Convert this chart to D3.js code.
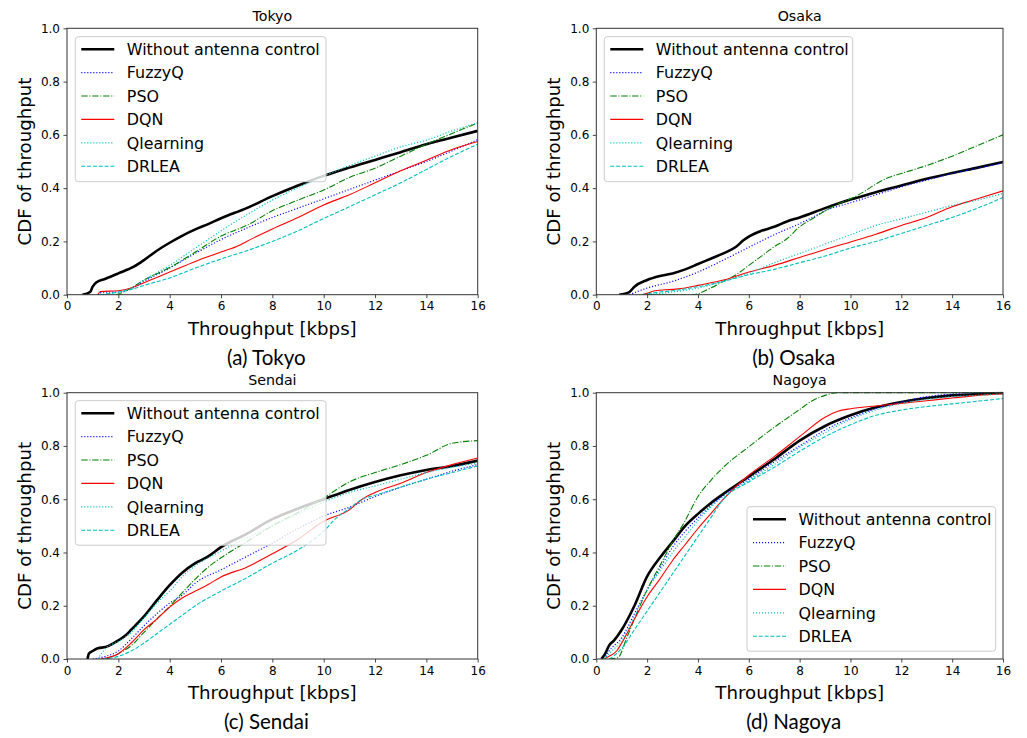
<!DOCTYPE html>
<html>
<head>
<meta charset="utf-8">
<script src="https://cdn.jsdelivr.net/npm/d3@7"></script>
<style>
  html, body { margin: 0; padding: 0; background: #fff; }
  svg text { font-family: "DejaVu Sans", sans-serif; fill: #000; }
</style>
</head>
<body>
<svg id="fig" width="1027" height="738"></svg>
<script>
// ---- Data: CDF of throughput per city, each series as [throughput kbps, CDF] ----
const seriesNames = ["Without antenna control", "FuzzyQ", "PSO", "DQN", "Qlearning", "DRLEA"];
const xTicks = [0, 2, 4, 6, 8, 10, 12, 14, 16];
const yTicks = [0, 0.2, 0.4, 0.6, 0.8, 1.0];
const cityTitles = ["Tokyo", "Osaka", "Sendai", "Nagoya"];
const captions = ["(a) Tokyo", "(b) Osaka", "(c) Sendai", "(d) Nagoya"];

// Tokyo
const tokyoWithout = [[0.6,0],[0.9,0.01],[1.0,0.03],[1.15,0.047],[1.5,0.06],[2,0.08],[2.6,0.105],[3,0.13],[3.5,0.165],[4,0.195],[4.5,0.222],[5,0.245],[5.5,0.265],[6,0.287],[7,0.325],[8,0.37],[9,0.41],[10,0.446],[11,0.477],[12,0.506],[13,0.535],[14,0.565],[15,0.59],[16,0.615]];
const tokyoFuzzyQ = [[1.2,0],[1.4,0.01],[2,0.01],[2.5,0.022],[3,0.05],[4,0.1],[5,0.155],[6,0.207],[7,0.25],[8,0.29],[9,0.325],[10,0.36],[11,0.395],[12,0.43],[13,0.465],[14,0.5],[15,0.54],[16,0.582]];
const tokyoPSO = [[1.9,0],[2.2,0.01],[2.5,0.025],[3,0.055],[4,0.102],[5,0.16],[6,0.22],[7,0.26],[8,0.315],[9,0.355],[10,0.393],[11,0.44],[12,0.475],[13,0.52],[14,0.565],[15,0.605],[16,0.645]];
const tokyoDQN = [[1.2,0],[1.3,0.012],[2,0.015],[2.5,0.025],[3,0.045],[3.5,0.065],[4,0.085],[5,0.125],[6,0.16],[6.7,0.185],[7,0.2],[8,0.247],[9,0.29],[10,0.337],[11,0.375],[12,0.42],[13,0.465],[14,0.505],[15,0.545],[16,0.575]];
const tokyoQlearning = [[1.3,0],[2,0.01],[2.5,0.025],[3,0.055],[4,0.11],[5,0.175],[6,0.24],[7,0.3],[8,0.355],[9,0.402],[10,0.445],[11,0.485],[12,0.52],[13,0.555],[14,0.58],[15,0.615],[16,0.645]];
const tokyoDRLEA = [[1.3,0],[2,0.01],[2.5,0.02],[3,0.035],[4,0.063],[5,0.1],[6,0.134],[7,0.165],[8,0.2],[9,0.24],[10,0.286],[11,0.33],[12,0.375],[13,0.42],[14,0.47],[15,0.52],[16,0.565]];

// Osaka
const osakaWithout = [[0.9,0],[1.3,0.01],[1.5,0.03],[2,0.055],[2.5,0.07],[3,0.08],[3.5,0.095],[4,0.115],[4.5,0.135],[5,0.155],[5.5,0.18],[5.8,0.205],[6,0.218],[6.5,0.24],[7,0.255],[7.5,0.275],[8,0.29],[9,0.325],[10,0.357],[11,0.385],[12,0.41],[13,0.435],[14,0.457],[15,0.477],[16,0.498]];
const osakaFuzzyQ = [[1.3,0],[2,0.025],[3,0.05],[4,0.085],[5,0.13],[6,0.178],[7,0.225],[8,0.267],[8.5,0.29],[9,0.315],[10,0.345],[11,0.375],[12,0.405],[13,0.43],[14,0.455],[15,0.475],[16,0.495]];
const osakaPSO = [[2.0,0],[3.8,0],[4.5,0.025],[5,0.05],[5.5,0.075],[6,0.11],[6.5,0.145],[7,0.18],[7.5,0.21],[8,0.255],[8.5,0.285],[9,0.315],[9.5,0.34],[10,0.36],[10.5,0.385],[11,0.415],[11.5,0.44],[12,0.455],[13,0.485],[14,0.52],[15,0.56],[16,0.6]];
const osakaDQN = [[1.8,0],[2,0.005],[2.3,0.015],[3,0.02],[3.5,0.025],[4,0.035],[5,0.055],[6,0.085],[7,0.11],[8,0.14],[9,0.17],[10,0.198],[11,0.227],[12,0.26],[13,0.29],[14,0.33],[15,0.36],[16,0.39]];
const osakaQlearning = [[2.0,0],[3,0.01],[4,0.025],[5,0.05],[6,0.08],[7,0.12],[8,0.155],[9,0.19],[10,0.225],[11,0.26],[12,0.285],[13,0.31],[14,0.335],[15,0.355],[16,0.38]];
const osakaDRLEA = [[1.8,0],[2.5,0.01],[3,0.015],[4,0.03],[5,0.05],[6,0.075],[7,0.095],[8,0.12],[9,0.145],[10,0.175],[11,0.2],[12,0.23],[13,0.26],[14,0.29],[15,0.325],[16,0.365]];

// Sendai
const sendaiWithout = [[0.8,0],[0.85,0.02],[1.0,0.03],[1.2,0.04],[1.5,0.045],[2,0.07],[2.3,0.09],[2.5,0.11],[3,0.16],[3.5,0.22],[4,0.277],[4.5,0.325],[5,0.36],[5.5,0.385],[6,0.42],[7,0.47],[8,0.525],[9,0.565],[10,0.6],[11,0.635],[12,0.665],[13,0.69],[14,0.71],[15,0.725],[16,0.745]];
const sendaiFuzzyQ = [[1.0,0],[1.5,0.01],[2,0.03],[2.5,0.075],[3,0.125],[3.5,0.17],[4,0.21],[4.5,0.24],[5,0.285],[6,0.335],[7,0.385],[8,0.435],[9,0.49],[10,0.537],[11,0.57],[12,0.61],[13,0.645],[14,0.675],[15,0.705],[16,0.73]];
const sendaiPSO = [[1.5,0],[2,0.02],[2.5,0.05],[3,0.1],[3.5,0.15],[4,0.198],[4.5,0.25],[5,0.3],[5.5,0.345],[6,0.38],[7,0.44],[8,0.5],[9,0.55],[10,0.605],[11,0.665],[12,0.7],[13,0.73],[14,0.765],[15,0.81],[16,0.82]];
const sendaiDQN = [[1.3,0],[2,0.02],[2.5,0.06],[3,0.11],[3.5,0.15],[4,0.195],[4.5,0.23],[5,0.255],[5.5,0.28],[6,0.308],[7,0.345],[8,0.395],[9,0.45],[10,0.517],[11,0.56],[11.5,0.6],[12,0.625],[13,0.66],[14,0.7],[15,0.73],[16,0.755]];
const sendaiQlearning = [[1.2,0],[1.5,0.04],[2,0.065],[2.5,0.1],[3,0.155],[3.5,0.21],[4,0.255],[4.5,0.31],[5,0.35],[6,0.405],[7,0.455],[8,0.5],[9,0.545],[10,0.59],[11,0.625],[12,0.65],[13,0.675],[14,0.7],[15,0.72],[16,0.735]];
const sendaiDRLEA = [[1.4,0],[2,0.01],[2.5,0.03],[3,0.06],[3.5,0.095],[4,0.13],[4.5,0.165],[5,0.2],[6,0.255],[7,0.305],[8,0.36],[9,0.41],[10,0.48],[10.5,0.53],[11,0.565],[11.5,0.6],[12,0.615],[13,0.645],[14,0.675],[15,0.7],[16,0.725]];

// Nagoya
const nagoyaWithout = [[0.2,0],[0.35,0.02],[0.5,0.05],[0.7,0.07],[1.0,0.11],[1.5,0.2],[2,0.31],[2.5,0.38],[3,0.44],[3.5,0.5],[4,0.545],[4.5,0.585],[5,0.62],[6,0.685],[7,0.75],[8,0.82],[9,0.875],[10,0.915],[11,0.945],[12,0.965],[13,0.98],[14,0.99],[15,0.995],[16,1.0]];
const nagoyaFuzzyQ = [[0.3,0],[0.5,0.03],[1,0.08],[1.5,0.17],[2,0.26],[2.5,0.34],[3,0.42],[3.5,0.48],[4,0.53],[4.5,0.575],[5,0.615],[6,0.675],[7,0.74],[8,0.8],[9,0.86],[10,0.905],[11,0.94],[12,0.965],[13,0.985],[14,0.995],[15,1.0],[16,1.0]];
const nagoyaPSO = [[0.5,0],[0.85,0.005],[1.2,0.08],[1.5,0.15],[2,0.26],[2.5,0.35],[3,0.44],[3.5,0.52],[4,0.61],[4.5,0.67],[5,0.72],[6,0.797],[7,0.87],[8,0.937],[8.5,0.97],[9,0.99],[9.5,1.0],[16,1.0]];
const nagoyaDQN = [[0.3,0],[0.5,0.01],[0.8,0.03],[1,0.06],[1.5,0.15],[2,0.234],[2.5,0.3],[3,0.37],[3.5,0.43],[4,0.49],[4.5,0.545],[5,0.6],[6,0.69],[7,0.76],[8,0.835],[9,0.908],[9.5,0.93],[10,0.94],[11,0.95],[12,0.96],[13,0.97],[14,0.98],[15,0.99],[16,0.995]];
const nagoyaQlearning = [[0.3,0],[0.5,0.02],[1,0.07],[1.5,0.16],[2,0.26],[2.5,0.33],[3,0.4],[3.5,0.46],[4,0.52],[4.5,0.57],[5,0.61],[6,0.67],[7,0.73],[8,0.795],[9,0.85],[10,0.9],[11,0.935],[12,0.96],[13,0.975],[14,0.985],[15,0.99],[16,0.995]];
const nagoyaDRLEA = [[0.5,0],[0.8,0.02],[1,0.04],[1.5,0.11],[2,0.18],[2.5,0.25],[3,0.32],[3.5,0.39],[4,0.46],[4.5,0.53],[5,0.6],[6,0.665],[7,0.72],[8,0.78],[9,0.835],[10,0.88],[11,0.915],[12,0.935],[13,0.948],[14,0.958],[15,0.968],[16,0.978]];

const panelSeries = [
  [tokyoWithout, tokyoFuzzyQ, tokyoPSO, tokyoDQN, tokyoQlearning, tokyoDRLEA],
  [osakaWithout, osakaFuzzyQ, osakaPSO, osakaDQN, osakaQlearning, osakaDRLEA],
  [sendaiWithout, sendaiFuzzyQ, sendaiPSO, sendaiDQN, sendaiQlearning, sendaiDRLEA],
  [nagoyaWithout, nagoyaFuzzyQ, nagoyaPSO, nagoyaDQN, nagoyaQlearning, nagoyaDRLEA]
];

// ---- Styling ----
const seriesStyle = [
  { color: "#000000", width: 2.6, dash: null },
  { color: "#0000ff", width: 1.2, dash: "1.1,1.9" },
  { color: "#008000", width: 1.1, dash: "6.4,1.7,1.1,1.7" },
  { color: "#ff0000", width: 1.1, dash: null },
  { color: "#00bfbf", width: 1.2, dash: "1.1,1.9" },
  { color: "#00bfbf", width: 1.1, dash: "4,1.8" }
];

const panels = [
  { left: 67,    top: 28.3,  width: 410.7, height: 266.4, legend: { x: 75.3,  y: 36.7,  w: 250.7, h: 145 } },
  { left: 596.3, top: 28.3,  width: 406.7, height: 266.4, legend: { x: 604.3, y: 36.7,  w: 248.4, h: 145 } },
  { left: 67,    top: 392.7, width: 410.7, height: 266.3, legend: { x: 75.3,  y: 400.7, w: 250.7, h: 144.5 } },
  { left: 596.3, top: 392.7, width: 406.7, height: 266.3, legend: { x: 747,   y: 506.7, w: 248.7, h: 144.5 } }
];

const svg = d3.select("#fig");

panels.forEach((p, i) => {
  const g = svg.append("g").attr("transform", `translate(${p.left},${p.top})`);
  const x = d3.scaleLinear().domain([0, 16]).range([0, p.width]);
  const y = d3.scaleLinear().domain([0, 1]).range([p.height, 0]);

  // clip so curves stay inside the axes
  const clipId = "clip" + i;
  g.append("clipPath").attr("id", clipId)
    .append("rect").attr("x", 0).attr("y", -1).attr("width", p.width).attr("height", p.height + 1);

  const line = d3.line().x(d => x(d[0])).y(d => y(d[1])).curve(d3.curveMonotoneX);

  const curves = g.append("g").attr("clip-path", `url(#${clipId})`);
  panelSeries[i].forEach((data, k) => {
    const s = seriesStyle[k];
    curves.append("path")
      .datum(data)
      .attr("d", line)
      .attr("fill", "none")
      .attr("stroke", s.color)
      .attr("stroke-width", s.width)
      .attr("stroke-dasharray", s.dash)
      .attr("stroke-linejoin", "round");
  });

  // axes
  const xAxis = d3.axisBottom(x).tickValues(xTicks).tickFormat(d3.format("d")).tickSize(3.5).tickPadding(3.5);
  const yAxis = d3.axisLeft(y).tickValues(yTicks).tickFormat(d3.format(".1f")).tickSize(3.5).tickPadding(3.5);
  const gx = g.append("g").attr("transform", `translate(0,${p.height})`).call(xAxis);
  const gy = g.append("g").call(yAxis);
  [gx, gy].forEach(a => {
    a.select(".domain").remove();
    a.selectAll(".tick line").attr("stroke", "#333").attr("stroke-width", 0.9);
    a.selectAll(".tick text").attr("font-size", 12).attr("fill", "#222");
  });

  // frame
  g.append("rect").attr("x", 0).attr("y", 0).attr("width", p.width).attr("height", p.height)
    .attr("fill", "none").attr("stroke", "#333").attr("stroke-width", 1);

  // title
  g.append("text").attr("x", p.width / 2).attr("y", -7.5)
    .attr("text-anchor", "middle").attr("font-size", 14.2).attr("fill", "#111")
    .text(cityTitles[i]);

  // axis labels
  g.append("text").attr("x", p.width / 2).attr("y", p.height + 40)
    .attr("text-anchor", "middle").attr("font-size", 18.2)
    .text("Throughput [kbps]");
  g.append("text")
    .attr("transform", `translate(${-36},${p.height / 2}) rotate(-90)`)
    .attr("text-anchor", "middle").attr("font-size", 18.2)
    .text("CDF of throughput");

  // legend
  const L = p.legend;
  const lg = svg.append("g").attr("transform", `translate(${L.x},${L.y})`);
  lg.append("rect").attr("width", L.w).attr("height", L.h).attr("rx", 3)
    .attr("fill", "#fff").attr("fill-opacity", 0.8)
    .attr("stroke", "#cccccc").attr("stroke-width", 1);
  seriesNames.forEach((name, k) => {
    const s = seriesStyle[k];
    const cy = 12.5 + k * 23.4;
    lg.append("line").attr("x1", 6).attr("x2", 39).attr("y1", cy).attr("y2", cy)
      .attr("stroke", s.color).attr("stroke-width", s.width).attr("stroke-dasharray", s.dash);
    lg.append("text").attr("x", 51.5).attr("y", cy).attr("dy", "0.36em")
      .attr("font-size", 15.9).text(name);
  });

  // caption below each panel
  svg.append("text")
    .attr("x", p.left + p.width / 2 - 6).attr("y", p.top + p.height + 63)
    .attr("dy", "0.35em")
    .attr("text-anchor", "middle").attr("font-size", 20.5)
    .style("font-family", "Lato, 'Open Sans', sans-serif")
    .text(captions[i]);
});
</script>
</body>
</html>
